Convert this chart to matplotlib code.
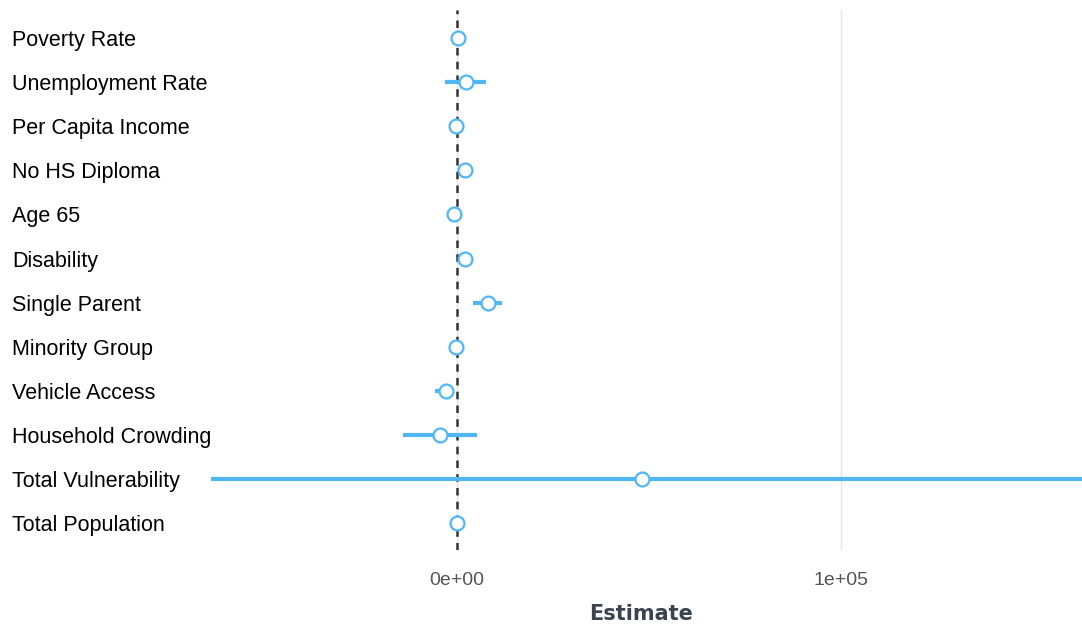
import numpy as np
import matplotlib.pyplot as plt

# データ (画像から読み取った推定値)
labels = ['Poverty Rate', 'Unemployment Rate', 'Per Capita Income', 'No HS Diploma',
          'Age 65', 'Disability', 'Single Parent', 'Minority Group', 'Vehicle Access',
          'Household Crowding', 'Total Vulnerability', 'Total Population']
estimate = [300, 2300, -100, 2000, -800, 2100, 8100, -300, -2900, -4400, 48100, 0]
lower = [-300, -3100, -600, 700, -1300, 1700, 4200, -800, -5700, -14100, -64000, -400]
upper = [900, 7500, 400, 2800, -300, 2500, 11700, 200, -1500, 5200, 250000, 400]
xticks = [0, 100000]
xtick_labels = ['0e+00', '1e+05']

blue = '#4FB6F7'

fig = plt.figure(figsize=(10.82, 6.25), dpi=100)
ax = fig.add_axes([200 / 1082, 1 - 550 / 625, 1 - 200 / 1082, 540 / 625])

y = np.arange(len(labels))
est = np.array(estimate)

# 信頼区間
ax.hlines(y, lower, upper, color=blue, linewidth=3, zorder=3)
# 推定値
ax.plot(est, y, 'o', markersize=10, markerfacecolor='white', markeredgecolor=blue,
        markeredgewidth=1.6, linestyle='none', zorder=4)

# ゼロの破線
ax.axvline(0, color='#333333', linestyle=(0, (3, 2.5)), linewidth=1.8, zorder=2)

ax.set_xlim(-66900, 162800)
ax.set_ylim(11.61, -0.635)

ax.set_xticks(xticks)
ax.set_xticklabels(xtick_labels, family='Liberation Sans', fontsize=14, color='#555555')
ax.grid(axis='x', color='#e3e3e3', linewidth=1)
ax.set_axisbelow(True)

ax.set_yticks(y)
ax.set_yticklabels(labels, family='Liberation Sans', fontsize=15.5, color='black')
for t in ax.get_yticklabels():
    t.set_horizontalalignment('left')
ax.tick_params(axis='y', length=0, pad=135)
ax.tick_params(axis='x', length=0, pad=16)

ax.set_xlabel('Estimate', family='DejaVu Sans', fontsize=15, fontweight='bold',
              color='#3a4450', labelpad=11)

for s in ax.spines.values():
    s.set_visible(False)

fig.savefig('out.png', dpi=100)
